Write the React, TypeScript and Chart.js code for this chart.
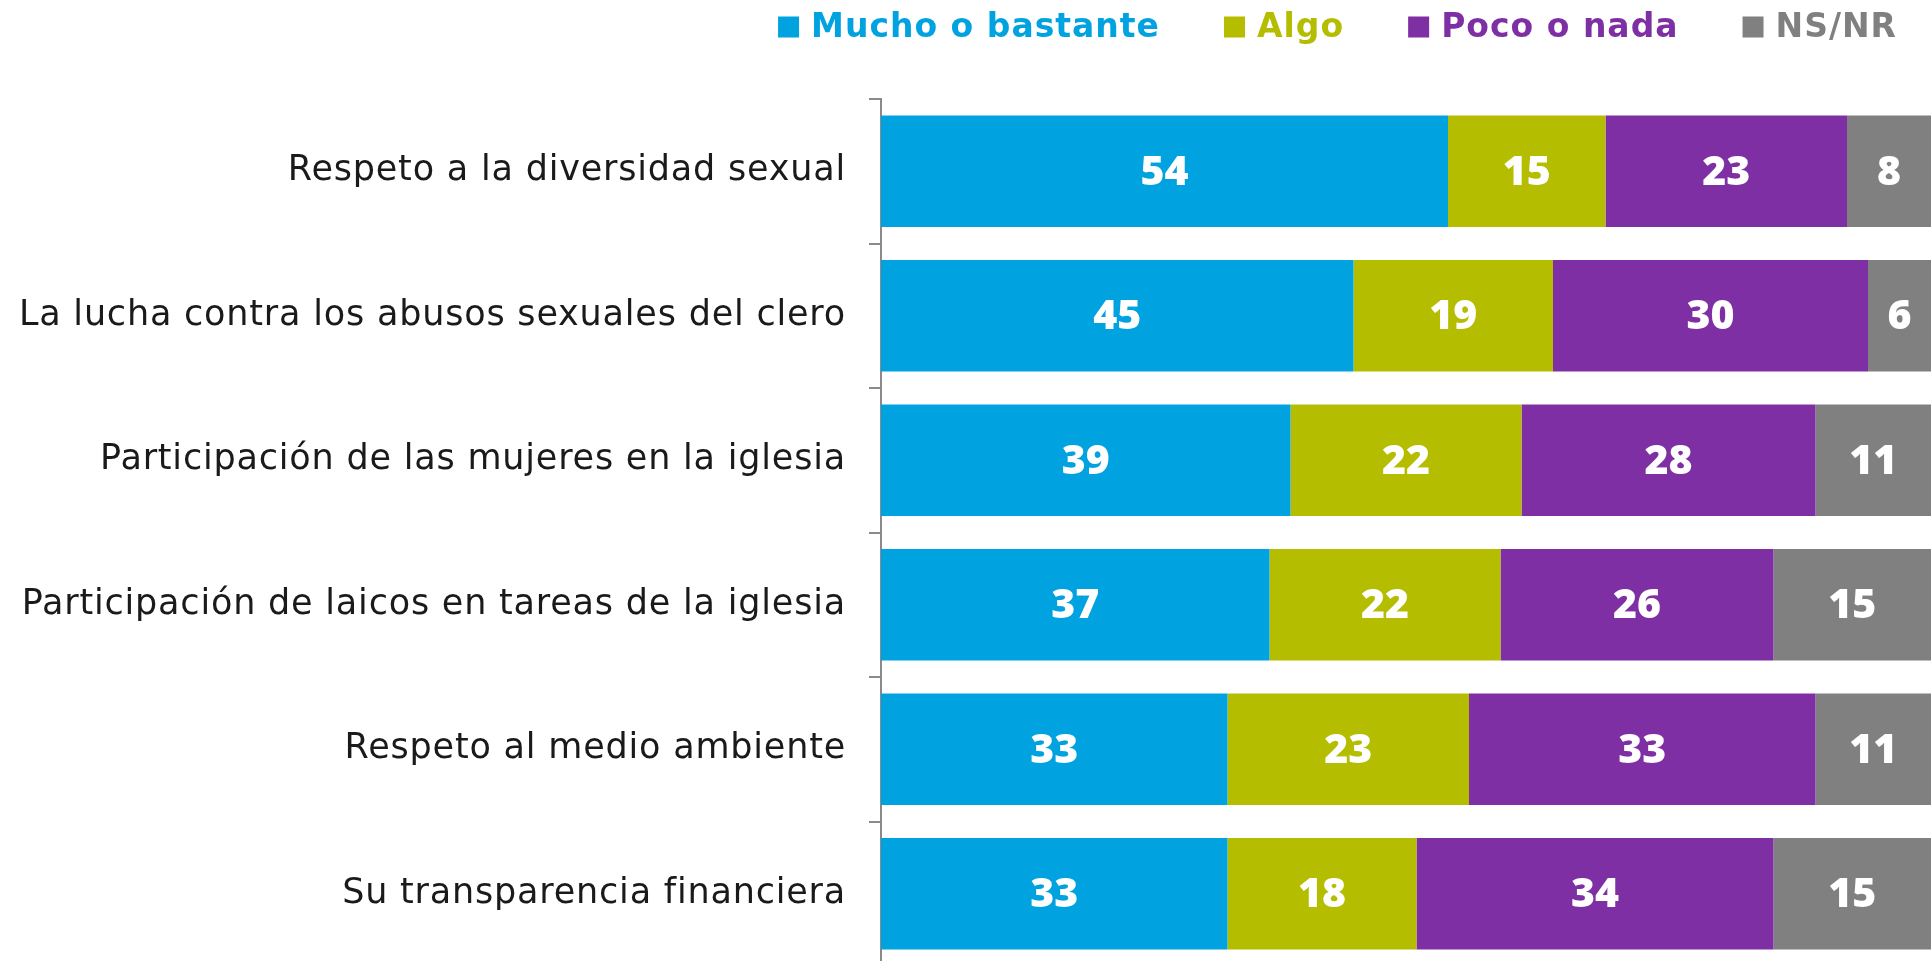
import React, { useEffect, useRef } from "react";
import { Chart, registerables } from "chart.js";

Chart.register(...registerables);

const categories = [
  "Respeto a la diversidad sexual",
  "La lucha contra los abusos sexuales del clero",
  "Participación de las mujeres en la iglesia",
  "Participación de laicos en tareas de la iglesia",
  "Respeto al medio ambiente",
  "Su transparencia financiera",
];
const seriesNames = ["Mucho o bastante", "Algo", "Poco o nada", "NS/NR"];
const mucho = [54, 45, 39, 37, 33, 33];
const algo = [15, 19, 22, 22, 23, 18];
const poco = [23, 30, 28, 26, 33, 34];
const nsnr = [8, 6, 11, 15, 11, 15];
const colors = ["#00A3E0", "#B5BD00", "#7F2FA4", "#808080"];

const LABEL_FONT = "'DejaVu Sans', 'Open Sans', sans-serif";
const VALUE_FONT = "'Open Sans', 'DejaVu Sans', sans-serif";

const setSpacing = (ctx: any, v: string) => {
  try {
    ctx.letterSpacing = v;
  } catch (e) {}
};

const spacingPlugin = {
  id: "tickSpacing",
  beforeDraw(chart: any) {
    setSpacing(chart.ctx, "0.8px");
  },
  afterDraw(chart: any) {
    setSpacing(chart.ctx, "0px");
  },
};

const labelPlugin = {
  id: "barLabels",
  afterDatasetsDraw(chart: any) {
    const ctx = chart.ctx;
    ctx.save();
    setSpacing(ctx, "0px");
    ctx.fillStyle = "#ffffff";
    ctx.font = `800 41px ${VALUE_FONT}`;
    ctx.textAlign = "center";
    ctx.textBaseline = "middle";
    chart.data.datasets.forEach((ds: any, di: number) => {
      const meta = chart.getDatasetMeta(di);
      meta.data.forEach((el: any, i: number) => {
        const v = ds.data[i];
        const cx = (el.x + el.base) / 2;
        ctx.fillText(String(v), cx, el.y + 2);
      });
    });
    ctx.restore();
  },
};

// Legend drawn at the top-right, right-aligned, with coloured bold text.
const legendPlugin = {
  id: "topLegend",
  afterDraw(chart: any) {
    const ctx = chart.ctx;
    ctx.save();
    ctx.font = `bold 33px ${LABEL_FONT}`;
    setSpacing(ctx, "1px");
    ctx.textBaseline = "middle";
    ctx.textAlign = "left";
    const box = 21;
    const boxGap = 12;
    const itemGap = 64;
    const right = 1897;
    const cy = 27;
    const items = chart.data.datasets.map((ds: any) => ({
      text: ds.label,
      color: ds.backgroundColor,
      w: ctx.measureText(ds.label).width,
    }));
    let total = 0;
    items.forEach((it: any, i: number) => {
      total += box + boxGap + it.w + (i > 0 ? itemGap : 0);
    });
    let x = right - total;
    items.forEach((it: any) => {
      ctx.fillStyle = it.color;
      ctx.fillRect(x, cy - box / 2, box, box);
      ctx.fillText(it.text, x + box + boxGap, cy + 1);
      x += box + boxGap + it.w + itemGap;
    });
    ctx.restore();
  },
};

export default function App() {
  const ref = useRef<HTMLCanvasElement | null>(null);
  useEffect(() => {
    if (!ref.current) return;
    const data = [mucho, algo, poco, nsnr];
    const chart = new Chart(ref.current, {
      type: "bar",
      data: {
        labels: categories,
        datasets: seriesNames.map((n, i) => ({
          label: n,
          data: data[i],
          backgroundColor: colors[i],
          borderWidth: 0,
          barPercentage: 0.77,
          categoryPercentage: 1.0,
        })),
      },
      options: {
        indexAxis: "y",
        animation: false,
        responsive: false,
        layout: { padding: { top: 99, left: 0, right: 0, bottom: 0 } },
        plugins: {
          tooltip: { enabled: false },
          legend: { display: false },
        },
        scales: {
          x: {
            stacked: true,
            min: 0,
            max: 100,
            display: false,
          },
          y: {
            stacked: true,
            grid: {
              display: true,
              drawOnChartArea: false,
              drawTicks: true,
              tickLength: 12,
              color: "#8a8a8a",
              lineWidth: 2,
              offset: true,
            },
            border: { display: true, color: "#8a8a8a", width: 2 },
            ticks: {
              color: "#1a1a1a",
              padding: 23,
              font: { family: LABEL_FONT, size: 35 },
            },
            afterFit: (s: any) => {
              s.width = 881;
              s.paddingTop = 0;
              s.paddingBottom = 0;
            },
          },
        },
      },
      plugins: [spacingPlugin, labelPlugin, legendPlugin],
    } as any);
    return () => chart.destroy();
  }, []);
  return (
    <div
      style={{
        position: "absolute",
        top: 0,
        left: 0,
        width: 1931,
        height: 961,
        overflow: "hidden",
        background: "#fff",
      }}
    >
      <canvas ref={ref} width={1931} height={966} style={{ display: "block" }} />
    </div>
  );
}
